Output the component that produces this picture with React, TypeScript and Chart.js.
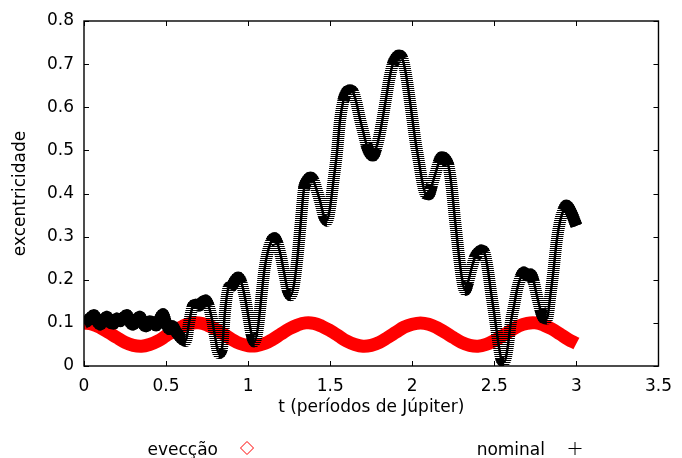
import React, { useEffect, useRef } from 'react';
import { Chart, registerables } from 'chart.js';

Chart.register(...registerables);

const seriesNames = ['evecção', 'nominal'];
const xTitle = 't (períodos de Júpiter)';
const yTitle = 'excentricidade';
const xTicks = [0, 0.5, 1, 1.5, 2, 2.5, 3, 3.5];
const yTicks = [0, 0.1, 0.2, 0.3, 0.4, 0.5, 0.6, 0.7, 0.8];

// evecção (red band)
const evecT = [
  0, 0.05, 0.1, 0.15, 0.2, 0.25, 0.3, 0.35, 0.4, 0.45, 0.5, 0.55, 0.6, 0.65, 0.7, 0.75, 0.8, 0.85, 0.9, 0.95,
  1, 1.05, 1.1, 1.15, 1.2, 1.25, 1.3, 1.35, 1.4, 1.45, 1.5, 1.55, 1.6, 1.65, 1.7, 1.75, 1.8, 1.85, 1.9, 1.95,
  2, 2.05, 2.1, 2.15, 2.2, 2.25, 2.3, 2.35, 2.4, 2.45, 2.5, 2.55, 2.6, 2.65, 2.7, 2.75, 2.8, 2.85, 2.9, 2.95, 3,
];
const evecE = [
  0.100, 0.097, 0.089, 0.078, 0.066, 0.055, 0.048, 0.046, 0.050, 0.058, 0.070, 0.082, 0.092, 0.099, 0.100, 0.095, 0.086, 0.074, 0.062, 0.052,
  0.047, 0.047, 0.052, 0.062, 0.074, 0.086, 0.095, 0.100, 0.099, 0.092, 0.082, 0.070, 0.058, 0.050, 0.046, 0.048, 0.055, 0.066, 0.078, 0.090,
  0.097, 0.100, 0.097, 0.089, 0.078, 0.066, 0.055, 0.048, 0.046, 0.050, 0.059, 0.070, 0.082, 0.093, 0.099, 0.100, 0.095, 0.086, 0.074, 0.062, 0.052,
];

// nominal (black crosses)
const nomT = [
  0, 0.02, 0.04, 0.06, 0.08, 0.1, 0.12, 0.14, 0.16, 0.18, 0.2, 0.22, 0.24, 0.26, 0.28, 0.3, 0.32, 0.34, 0.36, 0.38,
  0.4, 0.42, 0.44, 0.46, 0.48, 0.5, 0.52, 0.54, 0.56, 0.58, 0.6, 0.62, 0.64, 0.66, 0.68, 0.7, 0.72, 0.74, 0.76, 0.78,
  0.8, 0.82, 0.84, 0.86, 0.88, 0.9, 0.92, 0.94, 0.96, 0.98, 1, 1.02, 1.04, 1.06, 1.08, 1.1, 1.12, 1.14, 1.16, 1.18,
  1.2, 1.22, 1.24, 1.26, 1.28, 1.3, 1.32, 1.34, 1.36, 1.38, 1.4, 1.42, 1.44, 1.46, 1.48, 1.5, 1.52, 1.54, 1.56, 1.58,
  1.6, 1.62, 1.64, 1.66, 1.68, 1.7, 1.72, 1.74, 1.76, 1.78, 1.8, 1.82, 1.84, 1.86, 1.88, 1.9, 1.92, 1.94, 1.96, 1.98,
  2, 2.02, 2.04, 2.06, 2.08, 2.1, 2.12, 2.14, 2.16, 2.18, 2.2, 2.22, 2.24, 2.26, 2.28, 2.3, 2.32, 2.34, 2.36, 2.38,
  2.4, 2.42, 2.44, 2.46, 2.48, 2.5, 2.52, 2.54, 2.56, 2.58, 2.6, 2.62, 2.64, 2.66, 2.68, 2.7, 2.72, 2.74, 2.76, 2.78,
  2.8, 2.82, 2.84, 2.86, 2.88, 2.9, 2.92, 2.94, 2.96, 2.98, 3,
];
const nomE = [
  0.100, 0.104, 0.112, 0.118, 0.104, 0.096, 0.108, 0.114, 0.100, 0.098, 0.110, 0.104, 0.112, 0.118, 0.102, 0.096, 0.108, 0.114, 0.098, 0.092,
  0.104, 0.100, 0.094, 0.108, 0.120, 0.100, 0.086, 0.092, 0.080, 0.070, 0.062, 0.058, 0.100, 0.135, 0.142, 0.140, 0.148, 0.152, 0.138, 0.108,
  0.065, 0.030, 0.040, 0.130, 0.180, 0.185, 0.198, 0.205, 0.192, 0.160, 0.118, 0.075, 0.057, 0.090, 0.158, 0.225, 0.265, 0.288, 0.296, 0.282,
  0.254, 0.215, 0.178, 0.164, 0.190, 0.250, 0.330, 0.410, 0.430, 0.437, 0.428, 0.405, 0.380, 0.350, 0.337, 0.370, 0.430, 0.490, 0.570, 0.615,
  0.635, 0.639, 0.634, 0.610, 0.575, 0.545, 0.515, 0.495, 0.488, 0.505, 0.535, 0.575, 0.620, 0.665, 0.698, 0.714, 0.720, 0.712, 0.680, 0.630,
  0.575, 0.520, 0.475, 0.430, 0.400, 0.398, 0.420, 0.445, 0.470, 0.484, 0.480, 0.465, 0.415, 0.340, 0.270, 0.210, 0.176, 0.195, 0.225, 0.250,
  0.262, 0.268, 0.262, 0.225, 0.170, 0.120, 0.065, 0.020, 0.010, 0.040, 0.100, 0.140, 0.180, 0.205, 0.217, 0.210, 0.212, 0.195, 0.162, 0.132,
  0.112, 0.110, 0.160, 0.220, 0.290, 0.335, 0.360, 0.372, 0.362, 0.345, 0.325,
];

const FONT = "'DejaVu Sans', sans-serif";

export default function App() {
  const ref = useRef<HTMLCanvasElement | null>(null);

  useEffect(() => {
    document.body.style.margin = '0';
    document.body.style.overflow = 'hidden';
    const canvas = ref.current;
    if (!canvas) return;

    const pc = document.createElement('canvas');
    pc.width = 1;
    pc.height = 2;
    const pctx = pc.getContext('2d')!;
    pctx.fillStyle = '#000';
    pctx.fillRect(0, 0, 1, 1);
    const ctx0 = canvas.getContext('2d')!;
    const stripe = ctx0.createPattern(pc, 'repeat');

    const evecData = evecT.map((t, i) => ({ x: t, y: evecE[i] }));
    const nomData = nomT.map((t, i) => ({ x: t, y: nomE[i] }));

    const isSteep = (c: any) => {
      const dx = Math.abs(c.p1.x - c.p0.x);
      const dy = Math.abs(c.p1.y - c.p0.y);
      return dy > 3 * dx;
    };

    const framePlugin = {
      id: 'gnuFrame',
      afterDraw(chart: any) {
        const { ctx, chartArea } = chart;
        const { left, right, top, bottom } = chartArea;
        const xs = chart.scales.x;
        const ys = chart.scales.y;
        ctx.save();
        ctx.strokeStyle = '#000';
        ctx.lineWidth = 1.4;
        ctx.strokeRect(left, top, right - left, bottom - top);
        ctx.lineWidth = 1;
        ctx.beginPath();
        xTicks.forEach((v) => {
          const px = Math.round(xs.getPixelForValue(v)) + 0.5;
          ctx.moveTo(px, bottom);
          ctx.lineTo(px, bottom - 5);
          ctx.moveTo(px, top);
          ctx.lineTo(px, top + 5);
        });
        yTicks.forEach((v) => {
          const py = Math.round(ys.getPixelForValue(v)) + 0.5;
          ctx.moveTo(left, py);
          ctx.lineTo(left + 5, py);
          ctx.moveTo(right, py);
          ctx.lineTo(right - 5, py);
        });
        ctx.stroke();

        // key (gnuplot style: text then symbol)
        ctx.font = `17px ${FONT}`;
        ctx.fillStyle = '#000';
        ctx.textAlign = 'right';
        ctx.textBaseline = 'alphabetic';
        const ky = 448;
        ctx.fillText(seriesNames[0], 218, 455);
        ctx.fillText(seriesNames[1], 545, 455);
        ctx.strokeStyle = '#ff0000';
        ctx.lineWidth = 1;
        ctx.beginPath();
        ctx.moveTo(247, ky - 6.5);
        ctx.lineTo(253.5, ky);
        ctx.lineTo(247, ky + 6.5);
        ctx.lineTo(240.5, ky);
        ctx.closePath();
        ctx.stroke();
        ctx.strokeStyle = '#000';
        ctx.beginPath();
        ctx.moveTo(568.5, ky + 0.5);
        ctx.lineTo(581.5, ky + 0.5);
        ctx.moveTo(575, ky - 6);
        ctx.lineTo(575, ky + 7);
        ctx.stroke();
        ctx.restore();
      },
    };

    const chart = new Chart(canvas, {
      type: 'scatter',
      data: {
        datasets: [
          {
            label: seriesNames[0],
            data: evecData,
            showLine: true,
            borderColor: '#ff0000',
            backgroundColor: '#ff0000',
            borderWidth: 13,
            pointRadius: 0,
            tension: 0.4,
            borderCapStyle: 'butt',
            borderJoinStyle: 'round',
            order: 4,
          },
          {
            label: seriesNames[1],
            data: nomData,
            showLine: true,
            borderColor: stripe,
            borderWidth: 12,
            pointRadius: 0,
            cubicInterpolationMode: 'monotone',
            borderCapStyle: 'butt',
            borderJoinStyle: 'round',
            order: 3,
          },
          {
            label: seriesNames[1] + ' ',
            data: nomData,
            showLine: true,
            borderColor: '#000',
            borderWidth: 12,
            pointRadius: 0,
            cubicInterpolationMode: 'monotone',
            borderCapStyle: 'butt',
            borderJoinStyle: 'round',
            segment: {
              borderColor: (c: any) => (isSteep(c) ? 'rgba(0,0,0,0)' : '#000'),
            },
            order: 2,
          },
          {
            label: seriesNames[1] + '  ',
            data: nomData,
            showLine: true,
            borderColor: '#000',
            borderWidth: 2.5,
            pointRadius: 0,
            cubicInterpolationMode: 'monotone',
            order: 1,
          },
        ],
      } as any,
      options: {
        animation: false,
        responsive: true,
        maintainAspectRatio: false,
        events: [],
        layout: { padding: { top: 21, right: 19, bottom: 36, left: 0 } },
        plugins: {
          legend: { display: false },
          tooltip: { enabled: false },
        },
        scales: {
          x: {
            type: 'linear',
            min: 0,
            max: 3.5,
            afterBuildTicks: (s: any) => {
              s.ticks = xTicks.map((v) => ({ value: v }));
            },
            afterFit: (s: any) => {
              s.height = 56;
            },
            grid: { display: false, drawTicks: false },
            border: { display: false },
            ticks: {
              padding: 10,
              maxRotation: 0,
              autoSkip: false,
              color: '#000',
              font: { family: FONT, size: 17 },
              callback: (v: any) => String(v),
            },
            title: {
              display: true,
              text: xTitle,
              color: '#000',
              font: { family: FONT, size: 17 },
              padding: { top: 4, bottom: 4 },
            },
          },
          y: {
            type: 'linear',
            min: 0,
            max: 0.8,
            afterBuildTicks: (s: any) => {
              s.ticks = yTicks.map((v) => ({ value: v }));
            },
            afterFit: (s: any) => {
              s.width = 84;
            },
            grid: { display: false, drawTicks: false },
            border: { display: false },
            ticks: {
              padding: 10,
              autoSkip: false,
              color: '#000',
              font: { family: FONT, size: 17 },
              callback: (v: any) => String(v),
            },
            title: {
              display: true,
              text: yTitle,
              color: '#000',
              font: { family: FONT, size: 17 },
              padding: { top: 10, bottom: 10 },
            },
          },
        },
      },
      plugins: [framePlugin],
    } as any);

    return () => chart.destroy();
  }, []);

  return (
    <div style={{ position: 'relative', width: '682px', height: '458px' }}>
      <canvas ref={ref} />
    </div>
  );
}
